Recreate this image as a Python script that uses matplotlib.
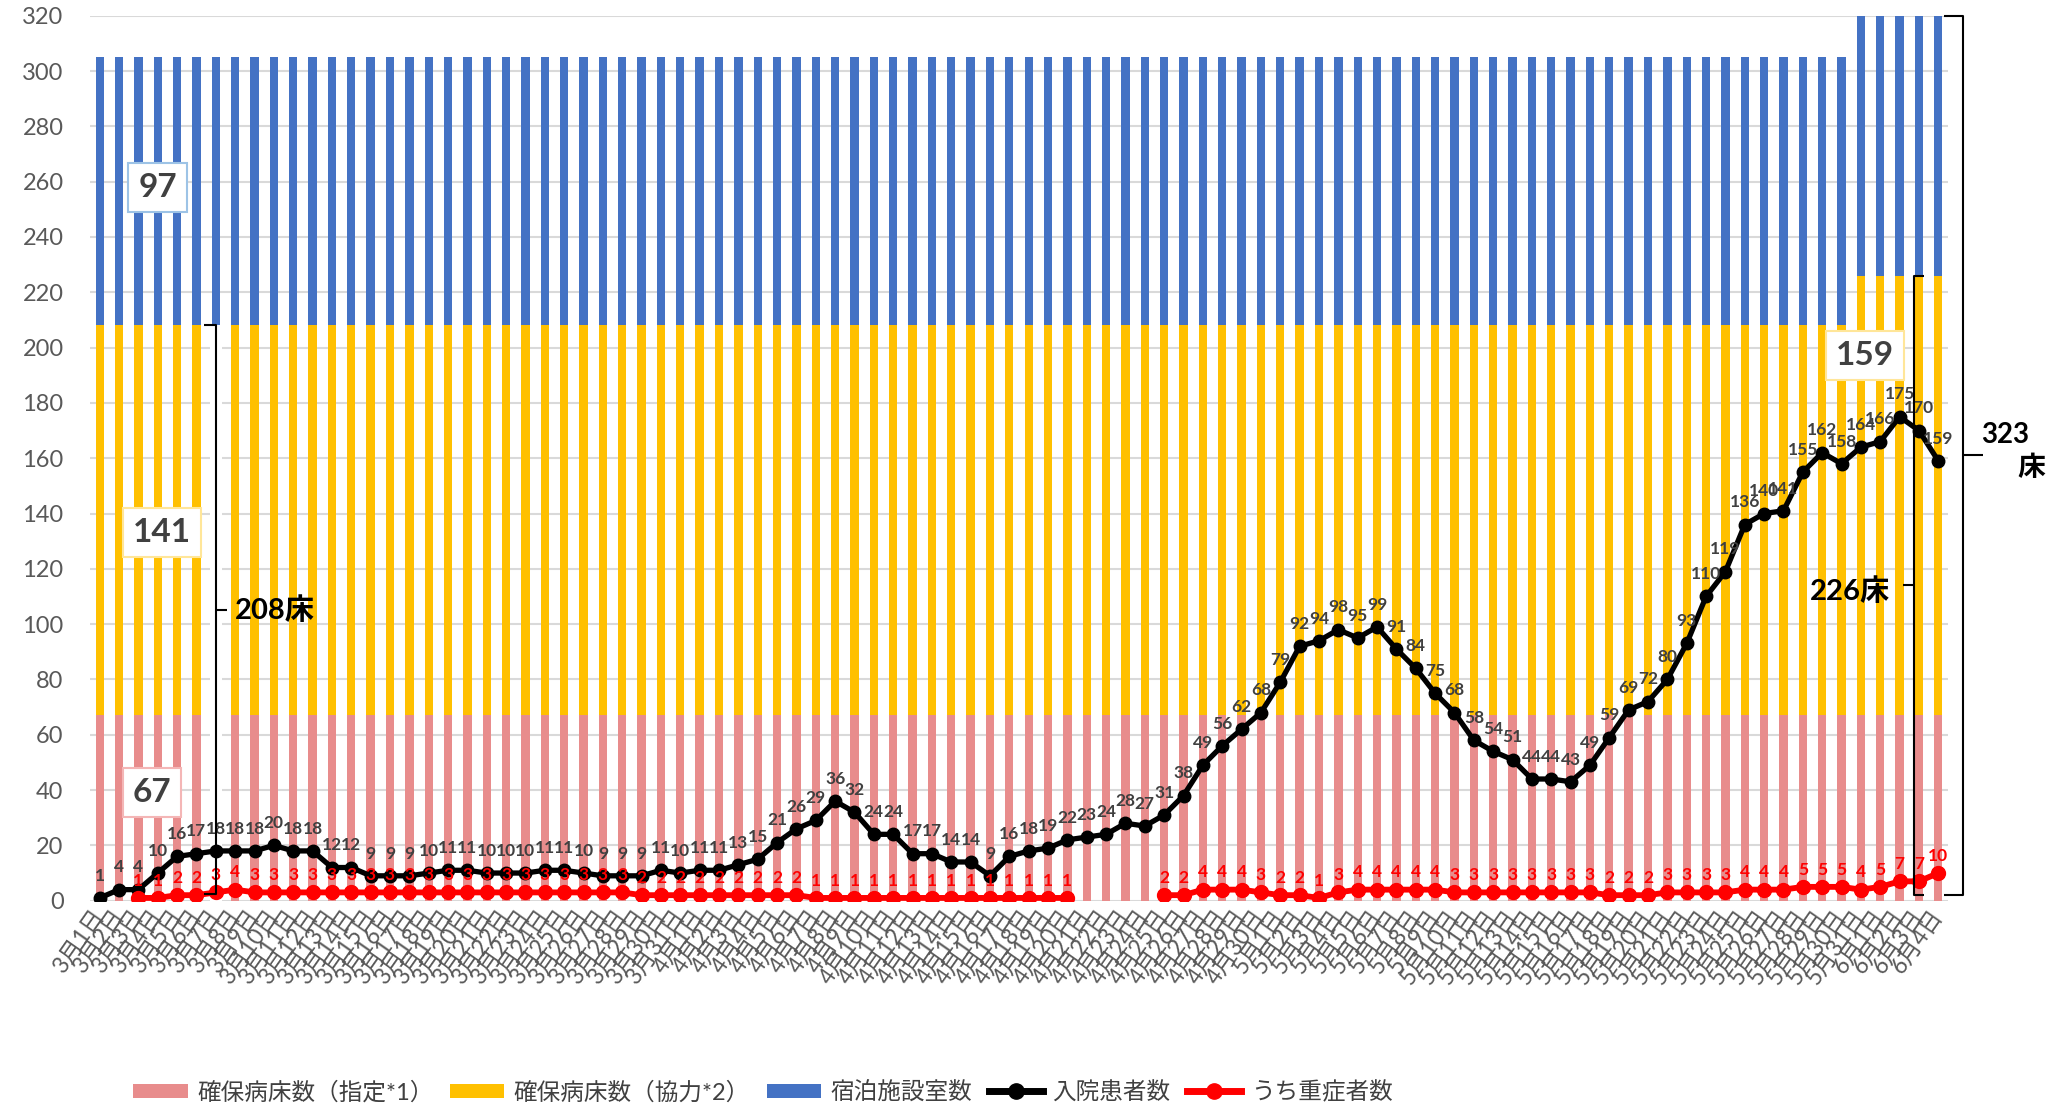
import matplotlib
matplotlib.use("Agg")
import matplotlib.pyplot as plt
import numpy as np
from matplotlib.patches import Patch
from matplotlib.lines import Line2D

plt.rcParams['font.family'] = ['Lato', 'Noto Sans CJK JP', 'DejaVu Sans']

# ---- data ----
months = [3, 4, 5, 6]
days_in_month = [31, 30, 31, 4]
date_labels = [f"{m}月{d}日" for m, n in zip(months, days_in_month) for d in range(1, n + 1)]

inpatients = [1, 4, 4, 10, 16, 17, 18, 18, 18, 20, 18, 18, 12, 12, 9, 9, 9, 10, 11, 11,
              10, 10, 10, 11, 11, 10, 9, 9, 9, 11, 10,
              11, 11, 13, 15, 21, 26, 29, 36, 32, 24, 24, 17, 17, 14, 14, 9, 16, 18, 19, 22,
              23, 24, 28, 27, 31, 38, 49, 56, 62, 68,
              79, 92, 94, 98, 95, 99, 91, 84, 75, 68, 58, 54, 51, 44, 44, 43, 49, 59, 69, 72,
              80, 93, 110, 119, 136, 140, 141, 155, 162, 158, 164,
              166, 175, 170, 159]

nan = np.nan
severe = [nan, nan, 1, 1, 2, 2, 3, 4, 3, 3, 3, 3, 3, 3, 3, 3, 3, 3, 3, 3,
          3, 3, 3, 3, 3, 3, 3, 3, 2, 2, 2,
          2, 2, 2, 2, 2, 2, 1, 1, 1, 1, 1, 1, 1, 1, 1, 1, 1, 1, 1, 1,
          nan, nan, nan, nan, 2, 2, 4, 4, 4, 3,
          2, 2, 1, 3, 4, 4, 4, 4, 4, 3, 3, 3, 3, 3, 3, 3, 3, 2, 2, 2,
          3, 3, 3, 3, 4, 4, 4, 5, 5, 5, 4,
          5, 7, 7, 10]

beds_designated = [67] * 96
beds_coop = [141] * 91 + [159] * 5
hotel_rooms = [97] * 96

legend_labels = ["確保病床数（指定*1）", "確保病床数（協力*2）", "宿泊施設室数", "入院患者数", "うち重症者数"]

# ---- colours ----
c_pink = '#E88C8C'
c_yellow = '#FFC000'
c_blue = '#4472C4'

W, H = 2055, 1107
fig = plt.figure(figsize=(W / 100, H / 100), dpi=100)
ax_l, ax_r, ax_t, ax_b = 90, 1948, 15.7, 900.7
ax = fig.add_axes([ax_l / W, 1 - ax_b / H, (ax_r - ax_l) / W, (ax_b - ax_t) / H])

x = np.arange(len(date_labels))
d = np.array(beds_designated)
c = np.array(beds_coop)
h = np.array(hotel_rooms)
bw = 0.43
ax.bar(x, d, width=bw, color=c_pink, zorder=2)
ax.bar(x, c, bottom=d, width=bw, color=c_yellow, zorder=2)
ax.bar(x, h, bottom=d + c, width=bw, color=c_blue, zorder=2)

ax.plot(x, inpatients, color='black', lw=3.8, marker='o', ms=9, zorder=5)
ax.plot(x, severe, color='#FF0000', lw=4.2, marker='o', ms=10, zorder=6)

for i, v in enumerate(inpatients):
    ax.annotate(str(v), (i, v), xytext=(0, 16), textcoords='offset points',
                ha='center', va='center', fontsize=12.5, fontweight='bold',
                color='#404040', zorder=7)
for i, v in enumerate(severe):
    if np.isnan(v):
        continue
    ax.annotate(str(int(v)), (i, v), xytext=(0, 12.5), textcoords='offset points',
                ha='center', va='center', fontsize=12.5, fontweight='bold',
                color='#FF0000', zorder=7)

ax.set_xlim(-0.5, len(x) - 0.5)
ax.set_ylim(0, 320)
ax.set_yticks(range(0, 321, 20))
ax.yaxis.grid(True, color='#D9D9D9', lw=1.5, zorder=0)
ax.set_axisbelow(True)
for s in ax.spines.values():
    s.set_visible(False)
ax.tick_params(axis='y', length=0, pad=19, labelsize=17, labelcolor='#595959')
ax.set_xticks(x)
ax.set_xticklabels(date_labels, rotation=55, ha='right', va='center',
                   rotation_mode='anchor', fontsize=16.5, color='#595959')
ax.tick_params(axis='x', length=0, pad=8)

# ---- value boxes ----
def vbox(xx, yy, txt, ec):
    ax.text(xx, yy, txt, ha='center', va='center', fontsize=24, fontweight='bold',
            color='#404040', zorder=8,
            bbox=dict(boxstyle='square,pad=0.3', fc='white', ec=ec, lw=1.5))

vbox(3.0, 258, "97", '#9DC3E6')
vbox(3.2, 133, "141", '#FFE699')
vbox(2.7, 39.3, "67", '#F4B6B6')
vbox(91.2, 197, "159", '#FFE699')

# ---- braces ----
ax.add_patch(plt.Rectangle((5.7, 0), 0.6, 208, fc='white', ec='none', zorder=3))

def brace(xv, y0, y1, arm, nub, lw=1.5):
    ym = (y0 + y1) / 2
    kw = dict(color='black', lw=lw, zorder=9, clip_on=False, solid_capstyle='butt')
    ax.plot([xv + arm, xv, xv, xv + arm], [y1, y1, y0, y0], **kw)
    ax.plot([xv, xv + nub], [ym, ym], **kw)

brace(6.0, 2.5, 208, -0.6, 0.6)
ax.text(7.0, 105, "208床", ha='left', va='center', fontsize=21, fontweight='bold',
        color='black', zorder=9)
brace(93.75, 2, 226, 0.5, -0.55)
ax.text(92.5, 112, "226床", ha='right', va='center', fontsize=21, fontweight='bold',
        color='black', zorder=9)
brace(96.3, 2, 320, -1.0, 1.0)
fig.text(2005 / W, 1 - 435 / H, "323", ha='center', va='center', fontsize=20,
         fontweight='bold', color='black')
fig.text(2031 / W, 1 - 468 / H, "床", ha='center', va='center', fontsize=20,
         fontweight='bold', color='black')

# ---- legend ----
handles = [Patch(fc=c_pink, ec='none'), Patch(fc=c_yellow, ec='none'), Patch(fc=c_blue, ec='none'),
           Line2D([], [], color='black', lw=5, marker='o', ms=11),
           Line2D([], [], color='#FF0000', lw=5, marker='o', ms=11)]
leg = fig.legend(handles, legend_labels, loc='center', ncol=5, frameon=False,
                 bbox_to_anchor=(763 / W, 1 - 1092 / H), fontsize=17,
                 handlelength=2.3, handleheight=0.6, handletextpad=0.4, columnspacing=0.7)
for t in leg.get_texts():
    t.set_color('#404040')

fig.savefig("out.png", dpi=100)
